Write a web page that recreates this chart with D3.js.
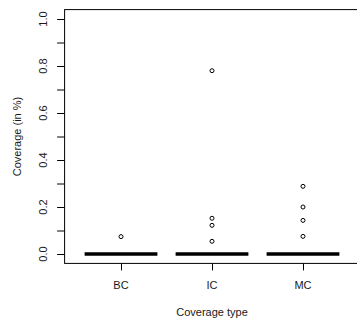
<!DOCTYPE html>
<html>
<head>
<meta charset="utf-8">
<script src="https://cdn.jsdelivr.net/npm/d3@7"></script>
<style>
  body { margin: 0; background: #fff; }
  text { font-family: "Liberation Sans", Arial, sans-serif; font-size: 11px; fill: #1a1a1a; }
</style>
</head>
<body>
<div id="chart"></div>
<script>
// data
const categories = ["BC", "IC", "MC"];
const medians = [0, 0, 0];
const outliersBC = [0.074];
const outliersIC = [0.78, 0.152, 0.122, 0.054];
const outliersMC = [0.288, 0.2, 0.143, 0.075];
const yTicks = [0, 0.2, 0.4, 0.6, 0.8, 1.0];
const yMinorTicks = [0.1, 0.3, 0.5, 0.7, 0.9];

const width = 357, height = 323;
const plotLeft = 64.6, plotRight = 359.4, plotTop = 9.6, plotBottom = 263.4;

const svg = d3.select("#chart").append("svg")
  .attr("width", width)
  .attr("height", height);

// x positions 1..3, R style range with 4% padding
const x = d3.scaleLinear().domain([0.38, 3.62]).range([plotLeft, plotRight]);
const y = d3.scaleLinear().domain([-0.04, 1.04]).range([plotBottom, plotTop]);

// frame
svg.append("rect")
  .attr("x", plotLeft).attr("y", plotTop)
  .attr("width", plotRight - plotLeft).attr("height", plotBottom - plotTop)
  .attr("fill", "none").attr("stroke", "#000").attr("stroke-width", 1);

// y axis
const yAxis = svg.append("g")
  .attr("transform", `translate(${plotLeft},0)`)
  .call(d3.axisLeft(y).tickValues(yTicks.concat(yMinorTicks)).tickSize(7.5).tickFormat(""));
yAxis.select(".domain").remove();
yAxis.selectAll("line").attr("stroke", "#000");

svg.selectAll(".ylab")
  .data(yTicks)
  .enter().append("text")
  .attr("class", "ylab")
  .attr("transform", d => `translate(47,${y(d)}) rotate(-90)`)
  .attr("text-anchor", "middle")
  .text(d => d.toFixed(1));

// x axis
const xAxis = svg.append("g")
  .attr("transform", `translate(0,${plotBottom})`)
  .call(d3.axisBottom(x).tickValues([1, 2, 3]).tickSize(7).tickFormat(""));
xAxis.select(".domain").remove();
xAxis.selectAll("line").attr("stroke", "#000");

svg.selectAll(".xlab")
  .data(categories)
  .enter().append("text")
  .attr("class", "xlab")
  .attr("x", (d, i) => x(i + 1))
  .attr("y", 289)
  .attr("text-anchor", "middle")
  .text(d => d);

// axis titles
svg.append("text")
  .attr("x", x(2)).attr("y", 316)
  .attr("text-anchor", "middle")
  .text("Coverage type");

svg.append("text")
  .attr("transform", `translate(21,${y(0.5)}) rotate(-90)`)
  .attr("text-anchor", "middle")
  .text("Coverage (in %)");

// medians (boxes collapse to the median line)
const halfW = 0.4;
svg.selectAll(".median")
  .data(medians)
  .enter().append("line")
  .attr("x1", (d, i) => x(i + 1 - halfW))
  .attr("x2", (d, i) => x(i + 1 + halfW))
  .attr("y1", d => y(d))
  .attr("y2", d => y(d))
  .attr("stroke", "#000")
  .attr("stroke-width", 3.5);

// outliers
const outliers = [outliersBC, outliersIC, outliersMC];
outliers.forEach((vals, i) => {
  svg.selectAll(null)
    .data(vals)
    .enter().append("circle")
    .attr("cx", x(i + 1))
    .attr("cy", d => y(d))
    .attr("r", 2)
    .attr("fill", "none")
    .attr("stroke", "#000")
    .attr("stroke-width", 1);
});
</script>
</body>
</html>
